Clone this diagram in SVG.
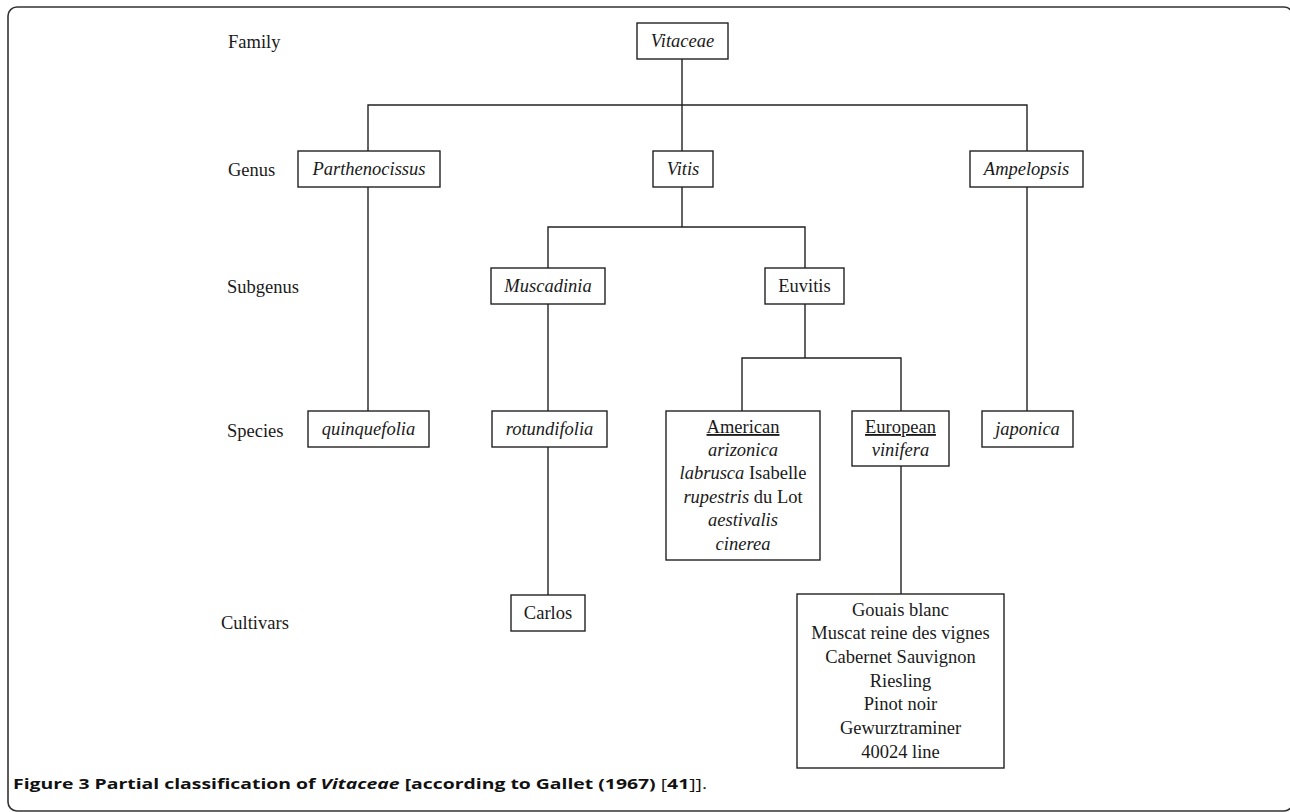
<svg xmlns="http://www.w3.org/2000/svg" width="1290" height="812" viewBox="0 0 1290 812">
<style>
.bg{fill:#ffffff}
.frame{fill:none;stroke:#333;stroke-width:1.6}
.box{fill:#fff;stroke:#222;stroke-width:1.4}
.ln{fill:none;stroke:#222;stroke-width:1.4}
.t{font-family:"Liberation Serif","Times New Roman",serif;font-size:18.5px;fill:#1a1a1a}
.c{text-anchor:middle}
.i{font-style:italic}
.u{text-decoration:underline}
.cap{font-family:"Open Sans","Liberation Sans",Arial,sans-serif;font-size:15px;fill:#111}
</style>
<rect class="bg" x="0" y="0" width="1290" height="812"/>
<rect class="frame" x="8" y="7" width="1285" height="804" rx="9"/>

<g id="rank-labels">
<text class="t" x="228" y="48">Family</text>
<text class="t" x="228" y="176">Genus</text>
<text class="t" x="227" y="293">Subgenus</text>
<text class="t" x="227" y="437">Species</text>
<text class="t" x="221" y="629">Cultivars</text>
</g>

<g id="connectors">
<path class="ln" d="M682,59V151"/>
<path class="ln" d="M368,151V105H1027V151"/>
<path class="ln" d="M368,187V411"/>
<path class="ln" d="M1027,187V411"/>
<path class="ln" d="M682,187V227"/>
<path class="ln" d="M548,268V227H805V268"/>
<path class="ln" d="M548,304V411"/>
<path class="ln" d="M548,447V595"/>
<path class="ln" d="M805,304V358"/>
<path class="ln" d="M742,411V358H901V411"/>
<path class="ln" d="M901,466V594"/>
</g>

<g id="node-vitaceae">
<rect class="box" x="637" y="23" width="91" height="36"/>
<text class="t c i" x="682.5" y="47">Vitaceae</text>
</g>
<g id="node-parthenocissus">
<rect class="box" x="298" y="151" width="142" height="36"/>
<text class="t c i" x="369" y="175">Parthenocissus</text>
</g>
<g id="node-vitis">
<rect class="box" x="653" y="151" width="60" height="36"/>
<text class="t c i" x="683" y="175">Vitis</text>
</g>
<g id="node-ampelopsis">
<rect class="box" x="970" y="151" width="113" height="36"/>
<text class="t c i" x="1026.5" y="175">Ampelopsis</text>
</g>
<g id="node-muscadinia">
<rect class="box" x="491" y="268" width="114" height="36"/>
<text class="t c i" x="548" y="292">Muscadinia</text>
</g>
<g id="node-euvitis">
<rect class="box" x="765" y="268" width="79" height="36"/>
<text class="t c" x="804.5" y="292">Euvitis</text>
</g>
<g id="node-quinquefolia">
<rect class="box" x="308" y="411" width="121" height="36"/>
<text class="t c i" x="368.5" y="435">quinquefolia</text>
</g>
<g id="node-rotundifolia">
<rect class="box" x="492" y="411" width="115" height="36"/>
<text class="t c i" x="549.5" y="435">rotundifolia</text>
</g>
<g id="node-american">
<rect class="box" x="666" y="411" width="154" height="149"/>
<text class="t c u" x="743" y="433">American</text>
<text class="t c i" x="743" y="456">arizonica</text>
<text class="t c" x="743" y="479"><tspan class="i">labrusca</tspan> Isabelle</text>
<text class="t c" x="743" y="503"><tspan class="i">rupestris</tspan> du Lot</text>
<text class="t c i" x="743" y="526">aestivalis</text>
<text class="t c i" x="743" y="550">cinerea</text>
</g>
<g id="node-european">
<rect class="box" x="852" y="411" width="97" height="55"/>
<text class="t c u" x="900.5" y="433">European</text>
<text class="t c i" x="900.5" y="456">vinifera</text>
</g>
<g id="node-japonica">
<rect class="box" x="982" y="411" width="91" height="36"/>
<text class="t c i" x="1027.5" y="435">japonica</text>
</g>
<g id="node-carlos">
<rect class="box" x="511" y="595" width="74" height="36"/>
<text class="t c" x="548" y="619">Carlos</text>
</g>
<g id="node-cultivars">
<rect class="box" x="797" y="594" width="207" height="174"/>
<text class="t c" x="900.5" y="616">Gouais blanc</text>
<text class="t c" x="900.5" y="639">Muscat reine des vignes</text>
<text class="t c" x="900.5" y="663">Cabernet Sauvignon</text>
<text class="t c" x="900.5" y="687">Riesling</text>
<text class="t c" x="900.5" y="710">Pinot noir</text>
<text class="t c" x="900.5" y="734">Gewurztraminer</text>
<text class="t c" x="900.5" y="758">40024 line</text>
</g>

<g id="caption">
<text class="cap" x="13" y="789" textLength="694" lengthAdjust="spacingAndGlyphs"><tspan font-weight="bold">Figure 3 Partial classification of <tspan font-style="italic">Vitaceae</tspan> [according to Gallet (1967)</tspan> [<tspan font-weight="bold">41</tspan>]].</text>
</g>
</svg>
